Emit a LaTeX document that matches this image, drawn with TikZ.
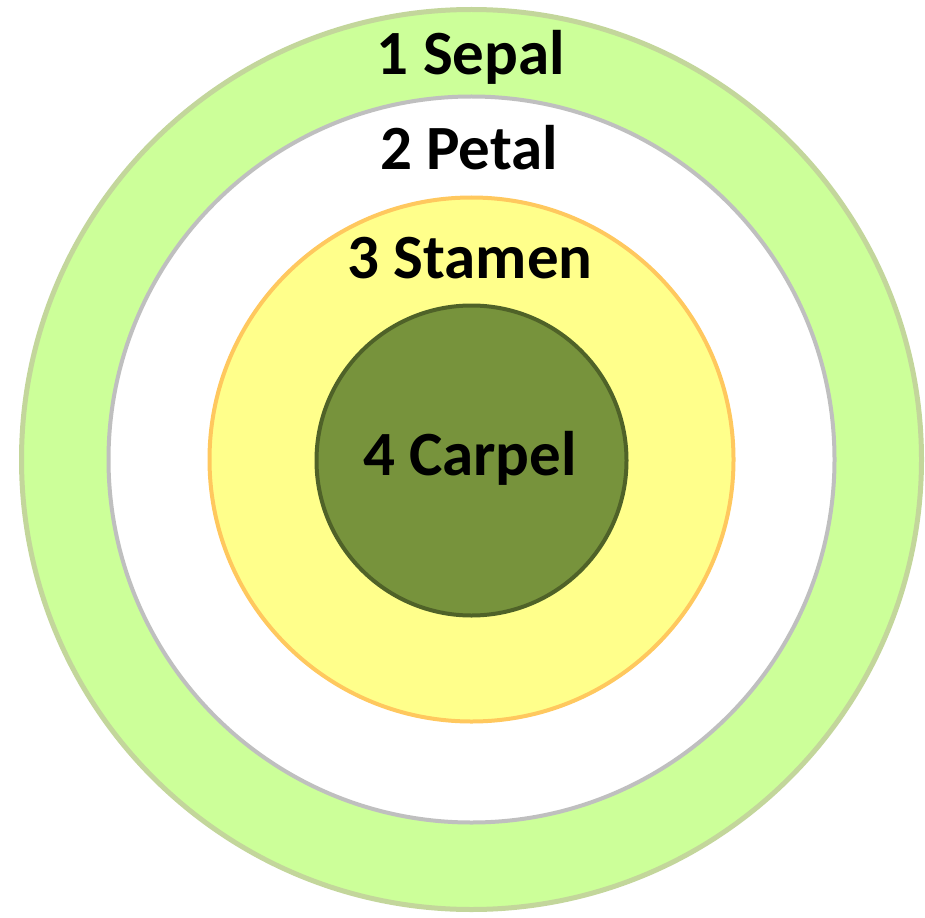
\documentclass[tikz,border=0pt]{standalone}
\usepackage{fontspec}
\setmainfont{Carlito}
\definecolor{sepalfill}{HTML}{CCFF99}
\definecolor{sepaldraw}{HTML}{C3D69B}
\definecolor{petaldraw}{HTML}{BFBFBF}
\definecolor{stamenfill}{HTML}{FFFF8B}
\definecolor{stamendraw}{HTML}{FFC85E}
\definecolor{carpelfill}{HTML}{77933C}
\definecolor{carpeldraw}{HTML}{4F6228}
\tikzset{
  lbl/.style={anchor=base, font=\fontsize{63}{70}\selectfont\bfseries, text=black, inner sep=0pt},
}
\begin{document}
\begin{tikzpicture}[x=1pt,y=-1pt]
\useasboundingbox (0,0) rectangle (925,917);
\coordinate (c) at (471.5,459.5);
\draw[line width=5pt, draw=sepaldraw, fill=sepalfill] (c) circle[radius=450];
\draw[line width=4pt, draw=petaldraw, fill=white] (c) circle[radius=363];
\draw[line width=4pt, draw=stamendraw, fill=stamenfill] (c) circle[radius=262];
\draw[line width=4pt, draw=carpeldraw, fill=carpelfill] (471.5,460.5) circle[radius=155];
\node[lbl] (sepal) at (471,75) {1 Sepal};
\node[lbl] (petal) at (469,170) {2 Petal};
\node[lbl] (stamen) at (470,278) {3 Stamen};
\node[lbl] (carpel) at (470,475) {4 Carpel};
\end{tikzpicture}
\end{document}
